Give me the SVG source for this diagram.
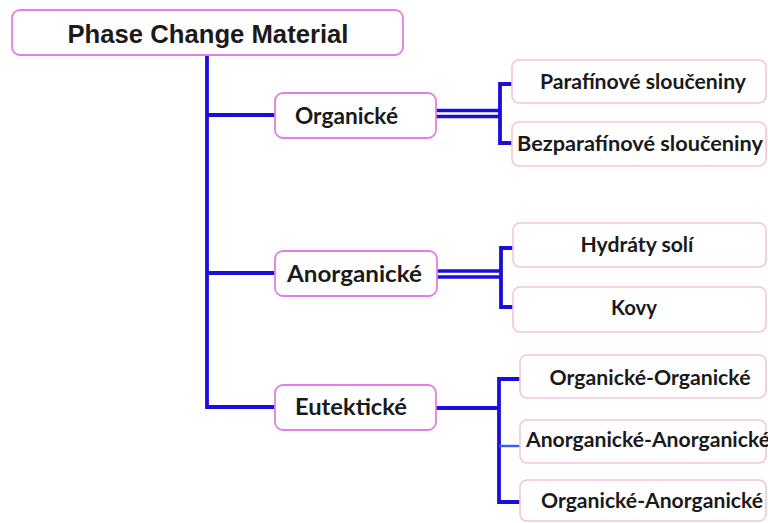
<svg xmlns="http://www.w3.org/2000/svg" width="768" height="523" viewBox="0 0 768 523">
<defs>
<style>
.bg{fill:#ffffff}
.main{fill:#ffffff;stroke:#e27fe6;stroke-width:1.8}
.leaf{fill:#ffffff;stroke:#f0c6d6;stroke-width:1.6}
.root-t{font-family:"Liberation Sans",Arial,sans-serif;font-weight:bold;font-size:25px;fill:#1a1a1a;text-anchor:middle}
.mid-t{font-family:Lato,"Open Sans",sans-serif;font-weight:bold;font-size:23.5px;fill:#1a1a1a;text-anchor:middle}
.leaf-t{font-family:Lato,"Open Sans",sans-serif;font-weight:bold;font-size:21px;fill:#1a1a1a;text-anchor:middle}
.c{fill:none;stroke:#1a0fd9;stroke-width:3.8;stroke-linejoin:miter}
.c2{fill:none;stroke:#1a0fd9;stroke-width:3.6}
.thin{fill:none;stroke:#3a5cf0;stroke-width:2.4}
</style>
</defs>
<rect class="bg" x="0" y="0" width="768" height="523"/>
<g id="connectors">
<path class="c" d="M207,55 V407 H276"/>
<path class="c" d="M207,115 H276"/>
<path class="c" d="M207,273 H276"/>
<path class="c2" d="M436,110.5 H500 M436,116.5 H500"/>
<path class="c" d="M512,84 H500 V143 H512"/>
<path class="c2" d="M437,271 H501 M437,277 H501"/>
<path class="c" d="M513,248 H501 V307 H513"/>
<path class="c" d="M436,408 H499"/>
<path class="c" d="M520,379 H499 V502 H520"/>
<path class="thin" d="M499,446 H520"/>
</g>
<g id="root">
<rect class="main" x="12" y="10" width="391" height="45" rx="8"/>
<text class="root-t" x="208" y="43" textLength="281" lengthAdjust="spacingAndGlyphs">Phase Change Material</text>
</g>
<g id="organicke">
<rect class="main" x="275" y="93" width="161" height="45" rx="8"/>
<text class="mid-t" x="346.5" y="124" textLength="103" lengthAdjust="spacingAndGlyphs">Organické</text>
</g>
<g id="anorganicke">
<rect class="main" x="275" y="251" width="162" height="45" rx="8"/>
<text class="mid-t" x="354.5" y="282" textLength="135" lengthAdjust="spacingAndGlyphs">Anorganické</text>
</g>
<g id="eutekticke">
<rect class="main" x="275" y="385" width="161" height="45" rx="8"/>
<text class="mid-t" x="351" y="415" textLength="112" lengthAdjust="spacingAndGlyphs">Eutektické</text>
</g>
<g id="parafinove">
<rect class="leaf" x="512" y="60" width="254" height="43" rx="7"/>
<text class="leaf-t" x="643" y="89" textLength="206" lengthAdjust="spacingAndGlyphs">Parafínové sloučeniny</text>
</g>
<g id="bezparafinove">
<rect class="leaf" x="512" y="122" width="254" height="44" rx="7"/>
<text class="leaf-t" x="640" y="151" textLength="246" lengthAdjust="spacingAndGlyphs">Bezparafínové sloučeniny</text>
</g>
<g id="hydraty">
<rect class="leaf" x="513" y="223" width="253" height="44" rx="7"/>
<text class="leaf-t" x="637" y="252" textLength="113" lengthAdjust="spacingAndGlyphs">Hydráty solí</text>
</g>
<g id="kovy">
<rect class="leaf" x="513" y="287" width="253" height="45" rx="7"/>
<text class="leaf-t" x="634" y="315" textLength="46" lengthAdjust="spacingAndGlyphs">Kovy</text>
</g>
<g id="org-org">
<rect class="leaf" x="520" y="355" width="246" height="43" rx="7"/>
<text class="leaf-t" x="650" y="385" textLength="201" lengthAdjust="spacingAndGlyphs">Organické-Organické</text>
</g>
<g id="anorg-anorg">
<rect class="leaf" x="520" y="420" width="246" height="43" rx="7"/>
<text class="leaf-t" x="648" y="447" textLength="244" lengthAdjust="spacingAndGlyphs">Anorganické-Anorganické</text>
</g>
<g id="org-anorg">
<rect class="leaf" x="520" y="480" width="246" height="41" rx="7"/>
<text class="leaf-t" x="652" y="508" textLength="222" lengthAdjust="spacingAndGlyphs">Organické-Anorganické</text>
</g>
</svg>
